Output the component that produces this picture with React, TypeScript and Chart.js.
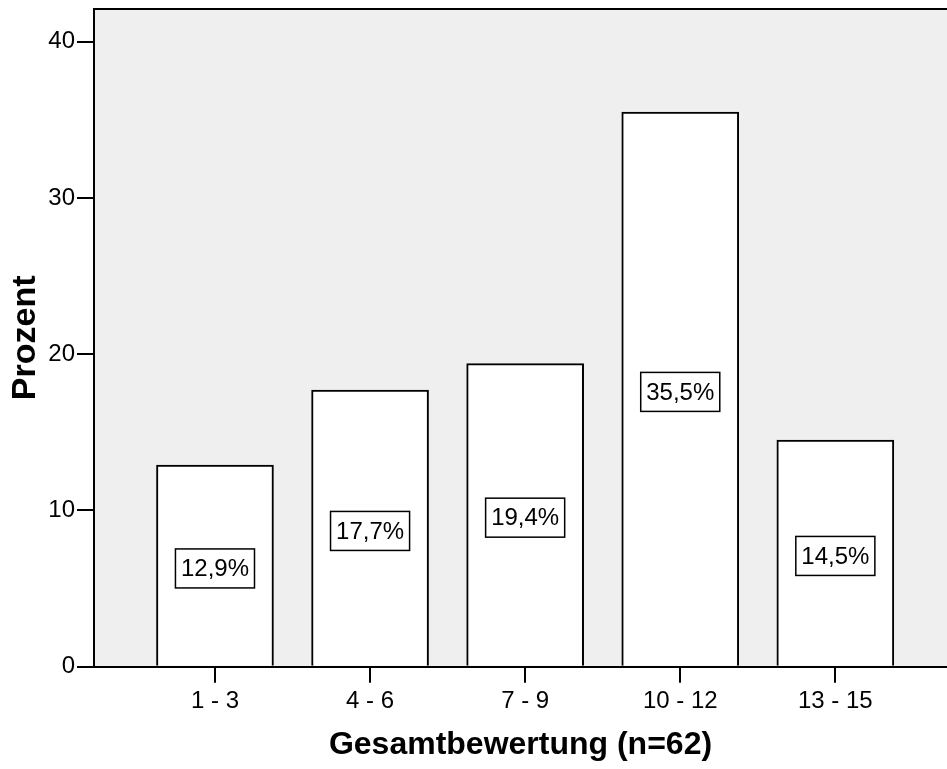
import React, { useEffect, useRef } from "react";
import { Chart, registerables } from "chart.js";

Chart.register(...registerables);

const categories: string[] = ["1 - 3", "4 - 6", "7 - 9", "10 - 12", "13 - 15"];
const percentValues: number[] = [12.9, 17.7, 19.4, 35.5, 14.5];
const yTickValues: number[] = [0, 10, 20, 30, 40];
const xTitle = "Gesamtbewertung (n=62)";
const yTitle = "Prozent";

const FONT = "'Liberation Sans', Arial, Helvetica, sans-serif";

const W = 947;
const H = 769;

const bgPlugin = {
  id: "plotBg",
  beforeDraw(chart: any) {
    const { ctx, chartArea } = chart;
    ctx.save();
    ctx.fillStyle = "#efefef";
    ctx.fillRect(chartArea.left, chartArea.top, chartArea.right - chartArea.left, chartArea.bottom - chartArea.top);
    ctx.restore();
  },
  afterDraw(chart: any) {
    const { ctx, chartArea } = chart;
    ctx.save();
    ctx.strokeStyle = "#000";
    ctx.lineWidth = 2;
    ctx.beginPath();
    ctx.moveTo(chartArea.left, chartArea.top);
    ctx.lineTo(chartArea.right, chartArea.top);
    ctx.stroke();
    ctx.restore();
  },
};

const labelPlugin = {
  id: "barLabels",
  afterDatasetsDraw(chart: any) {
    const { ctx } = chart;
    const meta = chart.getDatasetMeta(0);
    ctx.save();
    ctx.font = `24px ${FONT}`;
    ctx.textAlign = "center";
    ctx.textBaseline = "middle";
    meta.data.forEach((bar: any, i: number) => {
      const v = percentValues[i];
      const text = v.toFixed(1).replace(".", ",") + "%";
      const cx = bar.x;
      const cy = (bar.y + bar.base) / 2 + 3;
      const tw = ctx.measureText(text).width;
      const bw = tw + 11;
      const bh = 39;
      ctx.fillStyle = "#fff";
      ctx.fillRect(cx - bw / 2, cy - bh / 2, bw, bh);
      ctx.strokeStyle = "#000";
      ctx.lineWidth = 1.5;
      ctx.strokeRect(cx - bw / 2, cy - bh / 2, bw, bh);
      ctx.fillStyle = "#000";
      ctx.fillText(text, cx, cy + 1);
    });
    ctx.restore();
  },
};

export default function App() {
  const ref = useRef<HTMLCanvasElement | null>(null);

  useEffect(() => {
    if (!ref.current) return;
    const chart = new Chart(ref.current, {
      type: "bar",
      data: {
        datasets: [
          {
            data: percentValues.map((v, i) => ({ x: i, y: v })),
            backgroundColor: "#ffffff",
            borderColor: "#000000",
            borderWidth: 2,
            barThickness: 117,
          },
        ],
      },
      options: {
        responsive: false,
        animation: false,
        events: [],
        layout: { padding: { top: 9, left: 0, right: 0, bottom: 0 } },
        plugins: {
          legend: { display: false },
          tooltip: { enabled: false },
        },
        scales: {
          x: {
            type: "linear",
            min: -0.78,
            max: 4.72,
            offset: false,
            afterBuildTicks(scale: any) {
              scale.ticks = categories.map((_, i) => ({ value: i }));
            },
            afterFit(scale: any) {
              scale.height = 102.3;
              scale.paddingLeft = 0;
              scale.paddingRight = 0;
            },
            ticks: {
              callback: (v: any) => categories[v as number] ?? "",
              font: { family: FONT, size: 24 },
              color: "#000",
              padding: 4,
              maxRotation: 0,
              autoSkip: false,
            },
            grid: {
              offset: false,
              drawOnChartArea: false,
              drawTicks: true,
              tickLength: 16,
              color: "#000",
              lineWidth: 2,
            },
            border: { display: true, color: "#000", width: 2 },
            title: {
              display: true,
              text: xTitle,
              color: "#000",
              font: { family: FONT, size: 32, weight: "bold" },
              padding: { top: 0, bottom: 5 },
            },
          },
          y: {
            type: "linear",
            min: 0,
            max: 42.1,
            afterBuildTicks(scale: any) {
              scale.ticks = yTickValues.map((v) => ({ value: v }));
            },
            afterFit(scale: any) {
              scale.width = 94;
              scale.paddingTop = 0;
              scale.paddingBottom = 0;
            },
            ticks: {
              font: { family: FONT, size: 24 },
              color: "#000",
              padding: 2,
            },
            grid: {
              drawOnChartArea: false,
              drawTicks: true,
              tickLength: 17,
              color: "#000",
              lineWidth: 2,
            },
            border: { display: true, color: "#000", width: 2 },
            title: {
              display: true,
              text: yTitle,
              color: "#000",
              font: { family: FONT, size: 34, weight: "bold" },
              padding: { top: 5, bottom: 0 },
            },
          },
        },
      },
      plugins: [bgPlugin, labelPlugin],
    } as any);
    return () => chart.destroy();
  }, []);

  return (
    <div style={{ position: "absolute", left: 0, top: 0, width: W, height: H, background: "#fff" }}>
      <canvas ref={ref} width={W} height={H} style={{ display: "block", width: W, height: H }} />
    </div>
  );
}
